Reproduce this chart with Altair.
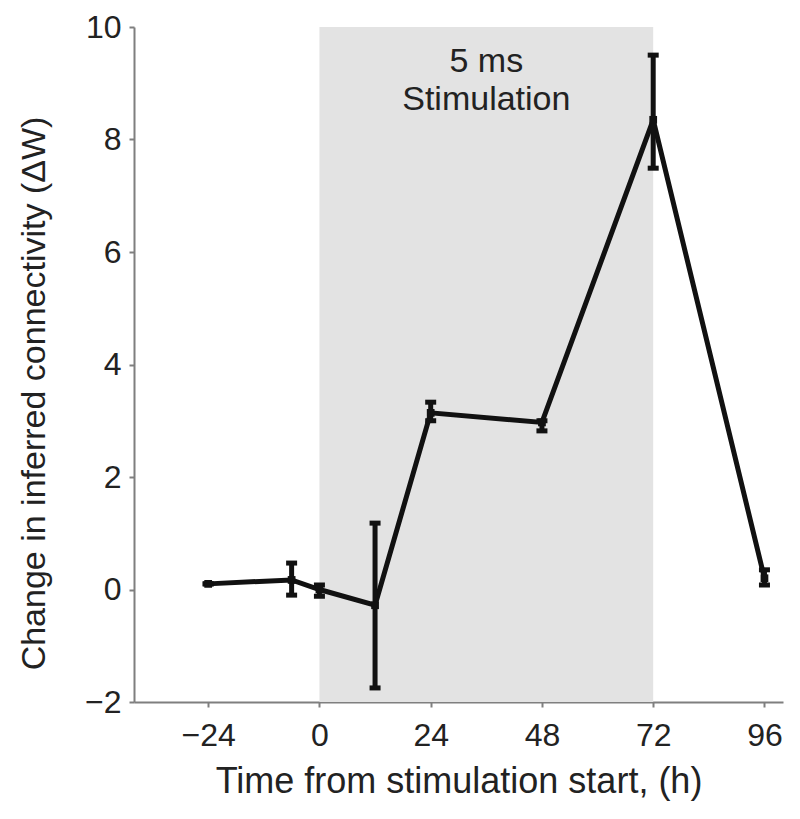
import altair as alt
import pandas as pd

# Data
times = [-24, -6, 0, 12, 24, 48, 72, 96]
values = [0.1, 0.17, 0.0, -0.28, 3.14, 2.97, 8.35, 0.2]
err_lo = [0.1, -0.1, -0.12, -1.75, 3.0, 2.82, 7.49, 0.08]
err_hi = [0.1, 0.47, 0.08, 1.18, 3.33, 3.0, 9.5, 0.35]

x_ticks = [-24, 0, 24, 48, 72, 96]
y_ticks = [-2, 0, 2, 4, 6, 8, 10]

stim_start = [0]
stim_end = [72]
stim_label = ["5 ms", "Stimulation"]
stim_label_y = [9.38, 8.7]

df = pd.DataFrame({"t": times, "v": values, "lo": err_lo, "hi": err_hi})
shade = pd.DataFrame({"a": stim_start, "b": stim_end, "y0": [-2], "y1": [10]})
lab = pd.DataFrame({"t": [36, 36], "y": stim_label_y, "txt": stim_label})

FONT = "Liberation Sans"
xscale = alt.Scale(domain=[-40, 100], nice=False, zero=False)
yscale = alt.Scale(domain=[-2, 10], nice=False, zero=False)

xaxis = alt.Axis(values=x_ticks, title="Time from stimulation start, (h)",
                 format="d",
                 grid=False, domainColor="#7f7f7f", tickColor="#7f7f7f",
                 domainWidth=2, tickWidth=2, tickSize=5,
                 labelFontSize=32, titleFontSize=36, labelFont=FONT, titleFont=FONT,
                 labelColor="#222", titleColor="#222", titleFontWeight="normal",
                 labelPadding=13, titlePadding=13)
yaxis = alt.Axis(values=y_ticks, title="Change in inferred connectivity (\u0394W)",
                 format="d",
                 grid=False, domainColor="#7f7f7f", tickColor="#7f7f7f",
                 domainWidth=2, tickWidth=2, tickSize=5,
                 labelFontSize=32, titleFontSize=34, labelFont=FONT, titleFont=FONT,
                 labelColor="#222", titleColor="#222", titleFontWeight="normal",
                 labelPadding=8, titlePadding=33, titleY=366)

rect = alt.Chart(shade).mark_rect(color="#e3e3e3").encode(
    x=alt.X("a:Q", scale=xscale, axis=xaxis), x2="b:Q",
    y=alt.Y("y0:Q", scale=yscale, axis=yaxis), y2="y1:Q")

line = alt.Chart(df).mark_line(color="#111", strokeWidth=5).encode(
    x=alt.X("t:Q", scale=xscale), y=alt.Y("v:Q", scale=yscale))

rules = alt.Chart(df).mark_rule(color="#111", strokeWidth=5).encode(
    x="t:Q", y="lo:Q", y2="hi:Q")

cap_lo = alt.Chart(df).mark_tick(color="#111", orient="horizontal", size=11,
                                 thickness=5, opacity=1).encode(x="t:Q", y="lo:Q")
cap_hi = alt.Chart(df).mark_tick(color="#111", orient="horizontal", size=11,
                                 thickness=5, opacity=1).encode(x="t:Q", y="hi:Q")

pts = alt.Chart(df).mark_point(shape="square", filled=True, color="#111",
                               size=60, opacity=1).encode(x="t:Q", y="v:Q")

text = alt.Chart(lab).mark_text(font=FONT, fontSize=34, color="#222").encode(
    x="t:Q", y="y:Q", text="txt:N")

chart = alt.layer(rect, line, rules, cap_lo, cap_hi, pts, text).properties(
    width=649, height=675,
    autosize=alt.AutoSizeParams(type="none"),
    padding={"left": 126, "top": 19, "right": 5, "bottom": 100},
).configure_view(stroke=None)

chart.save("out.html", embed_options={"renderer": "svg", "actions": False})
